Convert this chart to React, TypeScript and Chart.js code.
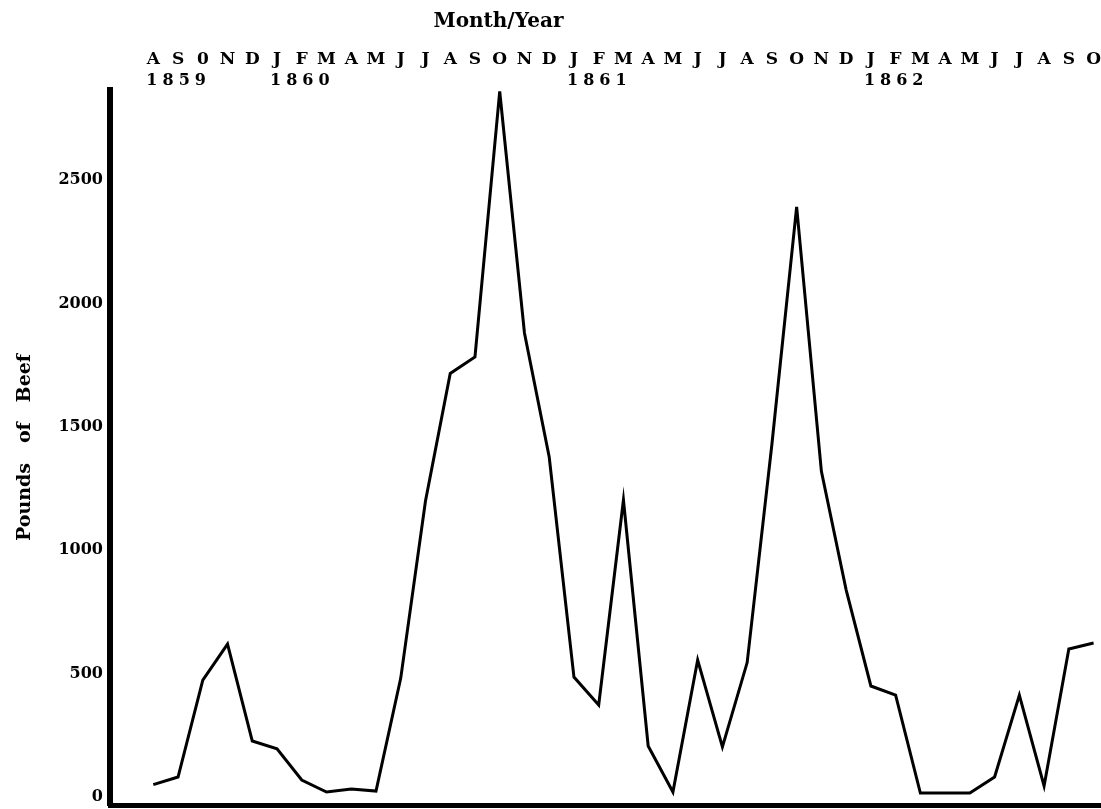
import React, { useEffect, useRef } from 'react';
import { Chart, registerables } from 'chart.js';

Chart.register(...registerables);

// ---- data ----
const monthLabels = ['A','S','0','N','D','J','F','M','A','M','J','J','A','S','O','N','D','J','F','M','A','M','J','J','A','S','O','N','D','J','F','M','A','M','J','J','A','S','O'];
const yearLabels = ['1859', '1860', '1861', '1862'];
const yearIndex = [0, 5, 17, 29];
const poundsOfBeef = [
  50, 81, 474, 620, 227,
  195, 69, 20, 32, 24, 482, 1200, 1717, 1784, 2860, 1881, 1378,
  486, 373, 1204, 207, 20, 555, 203, 545, 1430, 2392, 1320, 840,
  450, 413, 16, 16, 16, 81, 413, 45, 600, 624,
];
const yTicks = [0, 500, 1000, 1500, 2000, 2500];

const FONT = "'DejaVu Serif', serif";

const noPad = (s: any) => {
  s.paddingTop = 0;
  s.paddingBottom = 0;
  s.paddingLeft = 0;
  s.paddingRight = 0;
};

export default function App() {
  const ref = useRef<HTMLCanvasElement | null>(null);

  useEffect(() => {
    document.body.style.margin = '0';
    const canvas = ref.current;
    if (!canvas) return;

    const xMin = -1.75;
    const xMax = 38.3;
    const yearShift = 0.28;

    const titlePlugin = {
      id: 'topTitle',
      afterDraw(chart: any) {
        const ctx = chart.ctx;
        const xs = chart.scales.x;
        ctx.save();
        ctx.font = `bold 20px ${FONT}`;
        ctx.fillStyle = '#000';
        ctx.textAlign = 'center';
        ctx.textBaseline = 'middle';
        ctx.fillText('Month/Year', xs.getPixelForValue(13.95), 22);
        ctx.restore();
      },
    };

    const chart = new Chart(canvas, {
      type: 'line',
      data: {
        datasets: [
          {
            data: poundsOfBeef.map((v, i) => ({ x: i, y: v })),
            borderColor: '#000',
            borderWidth: 3,
            pointRadius: 0,
            tension: 0,
            fill: false,
            clip: false as any,
            xAxisID: 'x',
            yAxisID: 'y',
          },
        ],
      },
      options: {
        animation: false,
        responsive: false,
        layout: { padding: 0 },
        plugins: {
          legend: { display: false },
          tooltip: { enabled: false },
        },
        scales: {
          x: {
            type: 'linear',
            position: 'top',
            weight: 2,
            min: xMin,
            max: xMax,
            afterBuildTicks: (s: any) => {
              s.ticks = monthLabels.map((_, i) => ({ value: i }));
            },
            afterFit: (s: any) => {
              s.height = 70;
              noPad(s);
            },
            ticks: {
              autoSkip: false,
              maxRotation: 0,
              padding: 0,
              color: '#000',
              font: { family: FONT, weight: 'bold', size: 17 },
              callback: (v: any) => monthLabels[v] ?? '',
            },
            grid: { display: false, drawTicks: false },
            border: { display: false },
          },
          x2: {
            type: 'linear',
            position: 'top',
            weight: 1,
            min: xMin + yearShift,
            max: xMax + yearShift,
            afterBuildTicks: (s: any) => {
              s.ticks = yearIndex.map((i) => ({ value: i }));
            },
            afterFit: (s: any) => {
              s.height = 20;
              noPad(s);
            },
            ticks: {
              autoSkip: false,
              maxRotation: 0,
              align: 'start',
              padding: 0,
              color: '#000',
              font: { family: FONT, weight: 'bold', size: 16 },
              callback: (v: any) => {
                const k = yearIndex.indexOf(v);
                return k >= 0 ? yearLabels[k] : '';
              },
            },
            grid: { display: false, drawTicks: false },
            border: { display: false },
          },
          xb: {
            type: 'linear',
            position: 'bottom',
            min: xMin,
            max: xMax,
            afterFit: (s: any) => {
              s.height = 4;
              noPad(s);
            },
            ticks: { display: false },
            grid: { display: false, drawTicks: false },
            border: { display: true, color: '#000', width: 5 },
          },
          y: {
            type: 'linear',
            position: 'left',
            min: -32.4,
            max: 2866,
            afterBuildTicks: (s: any) => {
              s.ticks = yTicks.map((v) => ({ value: v }));
            },
            afterFit: (s: any) => {
              s.width = 110;
              noPad(s);
            },
            ticks: {
              padding: 7,
              color: '#000',
              font: { family: FONT, weight: 'bold', size: 16 },
              callback: (v: any) => String(v),
            },
            title: {
              display: true,
              text: 'Pounds   of   Beef',
              color: '#000',
              font: { family: FONT, weight: 'bold', size: 19 },
              padding: { top: 14, bottom: 0 },
            },
            grid: { display: false, drawTicks: false },
            border: { display: true, color: '#000', width: 6 },
          },
        },
      } as any,
      plugins: [titlePlugin],
    });

    // letter-spaced year labels, as in the original print
    const ys: any = chart.scales.x2;
    const origDrawLabels = ys.drawLabels.bind(ys);
    ys.drawLabels = (area: any) => {
      const ctx: any = chart.ctx;
      const prev = ctx.letterSpacing;
      ctx.letterSpacing = '5px';
      origDrawLabels(area);
      ctx.letterSpacing = prev || '0px';
    };
    chart.draw();

    return () => {
      chart.destroy();
    };
  }, []);

  return (
    <div style={{ width: 1101, height: 809 }}>
      <canvas ref={ref} width={1101} height={809} style={{ display: 'block' }} />
    </div>
  );
}
